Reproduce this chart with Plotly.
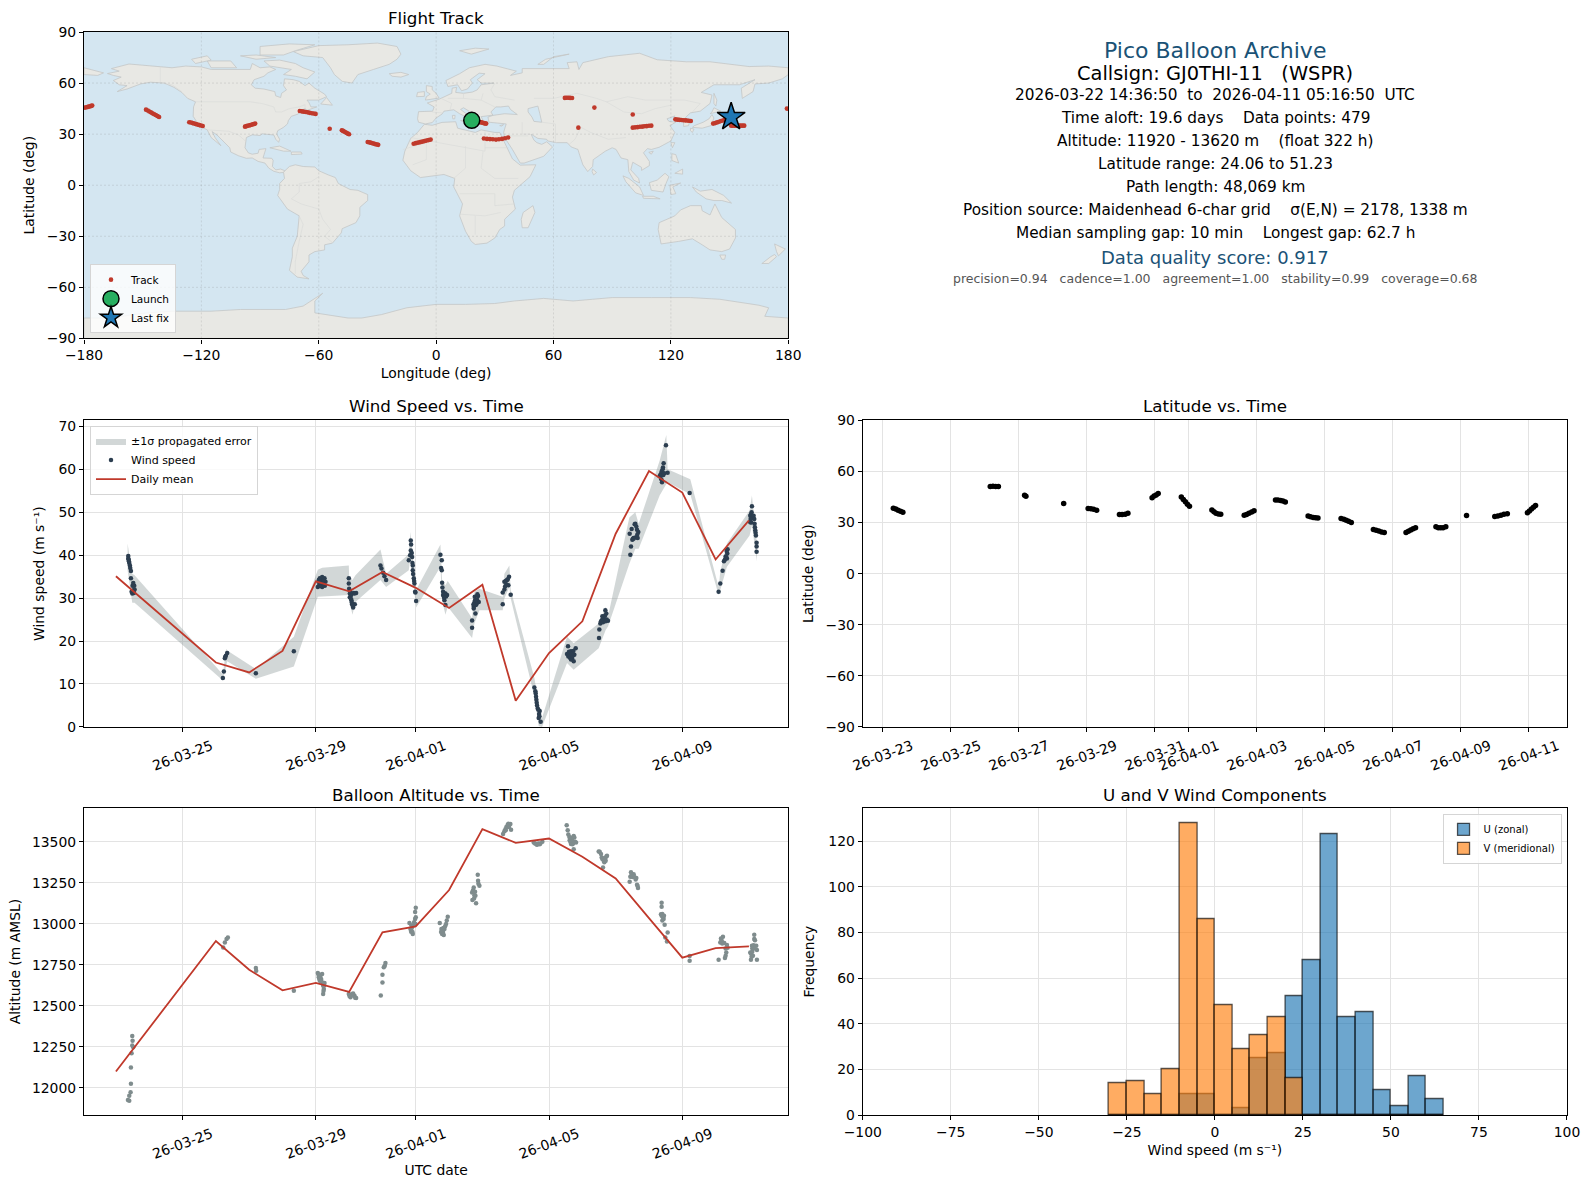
import pandas as pd
import plotly.graph_objects as go

# ---- datos ----
T0 = pd.Timestamp("2026-03-23")

# 1. Mapa: tierra, fronteras y traza
land_polys = [
    # Norteamerica
    [(-168,65.6),(-164,66.5),(-162,67),(-166,68.5),(-163,69.5),(-157,71.2),(-150,70.5),(-141,69.7),(-135,69),(-128,70),(-120,69.5),(-115,68),(-108,68),(-100,68),(-95,68),(-94,71.5),(-90,69),(-85,69.5),(-82,68),(-86,66),(-88,64),(-93,62),(-94.5,59),(-92.5,57),(-88,56.5),(-82.5,55),(-82,52.5),(-79.5,51.5),(-79,54),(-76.5,56),(-78,58.5),(-77.5,62.5),(-73,62),(-70,61),(-67,58.5),(-65,60),(-62,57),(-57,53.5),(-56,52),(-60,50),(-66,50),(-65,48.5),(-64,46),(-61,46),(-66,44),(-67,45),(-70,43.5),(-70.5,41.8),(-74,40.5),(-75.5,38),(-76,36),(-78,34),(-81,32),(-81.5,30),(-80,27),(-80.5,25.2),(-82,27),(-83,29.5),(-85,29.7),(-89,30.2),(-90,29.2),(-94,29.6),(-97,28),(-97.5,25),(-97.7,22),(-96,19),(-94,18.2),(-91,18.8),(-90.5,21),(-87,21.5),(-88,18),(-88.5,16),(-84,15.8),(-83.3,14.5),(-83.7,11),(-82,9),(-79.5,9.5),(-77.3,8.5),(-78,7.5),(-80,7.3),(-83,8.2),(-85.5,10),(-87.5,13),(-91,14),(-94,16),(-97,15.8),(-101,17.3),(-105,19.5),(-105.5,22),(-109,26),(-112,29.5),(-114.5,31.5),(-113,28),(-110,23.2),(-112,25),(-115,28),(-117,32.5),(-120.5,34.5),(-122.5,37.5),(-124.2,40.5),(-124,46),(-123,49),(-127,51),(-130,54.5),(-134,57.5),(-139,60),(-146,60.5),(-151,59.5),(-158,56.5),(-163,55),(-158,58.5),(-162,59),(-165,61.5),(-161,63.5),(-165,64.5)],
    # Groenlandia y artico canadiense
    [(-73,78.5),(-68,80),(-60,82),(-45,82.5),(-30,83.5),(-20,81.5),(-18,77),(-20,74),(-24,71),(-32,68),(-40,65),(-43,60),(-48,61),(-52,65),(-54,69),(-58,75),(-68,76)],
    [(-80,73.5),(-72,71.5),(-68,69),(-62,66.5),(-66,62.5),(-72,64),(-78,65),(-74,68),(-85,70),(-88,73)],
    [(-117,73),(-105,73),(-102,69),(-115,69)],
    [(-90,76.5),(-78,76.5),(-72,79),(-62,82.5),(-75,83),(-90,81.5)],
    [(-125,74),(-117,76),(-115,73.5),(-123,71.5)],
    [(-100,76),(-92,76.5),(-82,75),(-92,74)],
    [(-59,47.7),(-56,51.5),(-53,47)],
    [(-85,22),(-80,23),(-74.2,20),(-78,20)],
    [(-74,19.5),(-69,19.5),(-68.5,18.3),(-74,18)],
    # Sudamerica
    [(-77.3,8.5),(-75,11),(-72,12),(-68,11),(-62,10.7),(-60,8.5),(-55,6),(-51.5,4.5),(-50,1),(-44,-2.5),(-40,-3),(-35,-5.5),(-35,-9),(-39,-13),(-39,-18),(-41,-22),(-48,-25.5),(-48.5,-28),(-53,-34),(-57,-35),(-57,-38),(-62,-39),(-65,-41),(-65,-45),(-69,-50.5),(-68,-53),(-65,-55),(-71,-54),(-75,-50),(-73.5,-42),(-73.5,-37),(-71,-30),(-70,-18),(-76,-14),(-81,-6),(-80,-2.5),(-80,1),(-77.5,4),(-78,7.5)],
    # Africa
    [(-6,35.8),(-2,35.2),(3,36.9),(10,37.3),(11,33.5),(15,32.3),(20,31),(23,32.5),(30,31),(32.5,31),(34,27.5),(37,21),(39,15.5),(43,11.8),(51,12),(48,5),(40,-3),(39,-7),(40.5,-14),(35,-20),(35,-24),(32.5,-26),(30,-31),(26,-34),(20,-34.8),(18,-33),(15,-27),(12,-18),(13.5,-11),(9,-1),(9.5,4),(4,6.3),(-4,5.2),(-8,4.5),(-13,8.5),(-17,14.7),(-16,20),(-13,27.5),(-9.5,31)],
    # Eurasia
    [(-9,37),(-9.5,39),(-9,43.2),(-1.8,43.5),(-1,46),(-4.5,48.3),(1.5,50.5),(4,52),(8,54),(8.2,57),(10.5,57.5),(10,54.5),(14,54),(18.5,54.7),(21,56),(23,59),(29.5,60),(23,60),(21,62),(25,65.5),(22,65.8),(17.5,62),(18.5,60),(16,56.5),(13,55.5),(11,59),(6,58),(5,61.5),(12,65.5),(17,69),(25,71),(31,70),(41,67),(38,64.5),(44,66),(44,68.5),(54,68.5),(68,68.5),(67,72),(72,72.5),(73,68),(75,72),(88,75.5),(104,77.5),(113,73.7),(128,72.5),(140,72.5),(160,69.7),(170,70),(180,69),(180,65),(177,62.5),(170,60),(163,59.5),(162,55),(156.5,51),(156,57),(163,62),(155,59),(142,59),(135.5,54.5),(141,53),(140,48),(135,43.5),(130,42.5),(127.5,39.8),(129.5,37),(129,35),(126.5,34.5),(126.5,37.5),(125,39.5),(121.5,39),(122,40.7),(118,39),(119,37.5),(122.5,37),(119.5,35),(122,31),(120,26),(114,22.3),(110,21),(108,21.5),(106,19),(109,14),(109,11.5),(105,8.7),(105,10.5),(100.5,13.5),(99.5,9),(103.5,4),(104,1.3),(101,3),(98.5,8),(98,15),(94.5,16),(92,21),(90,22),(86.5,20),(80.3,15),(80,11),(77.5,8),(75,12),(73,19),(72.5,21),(69,22.5),(67,25),(61.5,25),(57,26),(56.5,27),(52,27.5),(48.5,30),(50,26.5),(51.5,25),(54,24),(56.5,25.5),(59.5,22.5),(55,17),(45,13),(43,13),(39,21),(35,28),(34.5,31),(35.8,36),(30.5,36.5),(27,37),(26.5,40),(29,41),(35,42),(41.5,41.5),(38,44.5),(37,46.5),(33,46),(30.5,46),(28,43),(29,41.2),(26,40.7),(23,40.3),(24,38),(22.5,36.7),(19.5,40.5),(19,42),(14,45.5),(12.5,44.5),(16,41.5),(18.5,40),(16,38),(15.5,40),(12,42),(9,44.3),(4,43.5),(3,41.8),(0,39.5),(-2,36.8),(-5.5,36)],
    [(-180,69),(-170,66),(-173,64.5),(-180,65)],
    # Islas
    [(-5.5,50),(1.5,51.2),(0,54),(-2,56),(-2,58),(-5,58.5),(-5,55),(-3,53.5),(-5,52)],
    [(-10,52),(-6,52.2),(-6,55),(-9.5,54.5)],
    [(-24,65.5),(-18,66.3),(-14,65),(-18,63.5),(-22.5,64)],
    [(12,79),(20,80.5),(27,80),(18,77)],
    [(52,71),(56,74),(68,77),(60,75.5),(55,71)],
    [(12.5,38),(15.5,38),(15,36.8)],
    [(8.3,41),(9.7,41),(9.5,39),(8.5,39)],
    [(23.5,35.5),(26,35.2),(24,35)],
    [(32.5,35),(34.5,35.6),(33.5,34.7)],
    [(49.5,-12),(50.5,-16),(47,-25),(44,-25),(43.5,-20),(44.5,-16)],
    [(80,9.5),(82,7.5),(80.5,6),(79.7,8)],
    [(131,34),(136,33.5),(140.5,35),(142,39.5),(141,41.5),(139.5,39),(136.5,37),(132,35)],
    [(140,42),(145.5,43.5),(142,45.5),(141,43)],
    [(130,33.5),(131.8,33),(131,31),(130,32)],
    [(142,54),(143.5,50),(143,46.5),(142,48)],
    [(120,25),(122,25),(120.8,22)],
    [(108.7,19.3),(111,20),(110,18.2)],
    [(120.5,18.5),(122.5,18),(124,13),(120.5,14.5)],
    [(122,7),(126,9.5),(126,6.5)],
    [(109,1.5),(113,3),(117,7),(119,5),(117.5,1),(116,-4),(110,-3)],
    [(95.5,5.5),(98.5,4),(104,-1),(106,-6),(102,-4.5),(97,2)],
    [(105.5,-6.5),(111,-6.5),(114.5,-8),(106,-7.7)],
    [(119.5,0),(125,1.3),(121,-1),(122.5,-5),(120,-5.5)],
    [(131,-1),(135,-3.5),(141,-2.5),(147,-6),(151,-10.5),(146,-9),(142,-9),(138,-8),(133,-4)],
    [(114,-22),(122,-18),(125,-14.5),(130,-12),(135.5,-12),(136,-15),(140,-17.5),(142.5,-11),(146,-19),(153,-26),(153,-31),(150,-37.5),(146,-39),(140,-38),(136,-35),(131,-31.5),(124,-33),(115,-34.5),(113.5,-26)],
    [(145,-41),(148,-41),(147.5,-43.5),(146,-43.5)],
    [(173,-34.5),(178.5,-37.5),(175,-41.5),(174,-39)],
    [(173,-40.7),(174,-42),(170,-46),(166.5,-46),(171,-42)],
    # Antartida
    [(-180,-90),(-180,-78),(-165,-78),(-158,-76.5),(-148,-75),(-135,-74),(-115,-74),(-100,-73),(-90,-73),(-77,-73),(-68,-71),(-58,-63.5),(-62,-68),(-62,-75),(-45,-78),(-38,-78),(-28,-76),(-15,-72),(0,-70),(15,-70),(30,-69.5),(40,-68),(55,-66.5),(70,-68),(80,-67),(90,-66),(110,-66),(130,-66),(145,-67),(165,-70.5),(170,-72),(168,-77),(180,-78),(180,-90)],
]
caspian = [(47,45),(52,46.5),(53,42),(54,37),(50,37.5),(49,40),(47,43)]
border_lines = [
    [(-123,49),(-95,49),(-89,48),(-83,46),(-82,43),(-79,43),(-75,45),(-70,46),(-67,47.3),(-67,45)],
    [(-141,69.7),(-141,60),(-135,59),(-130,55)],
    [(-117,32.5),(-108,31.5),(-106,31.7),(-101,29.5),(-97.5,26)],
    [(-60,5),(-64,2),(-70,1),(-70,-4),(-74,-8),(-69,-11),(-60,-14),(-58,-20),(-54,-26),(-57,-30),(-53,-33.7)],
    [(-70,-18),(-68,-23),(-70,-33),(-72,-45),(-72,-52)],
    [(-13,28),(-8,27),(12,23),(25,20),(25,32)],
    [(25,22),(37,22)],
    [(-17,21),(-5,25),(-5,15),(-12,12)],
    [(15,23),(15,10),(9,4)],
    [(24,20),(23,10),(30,4),(42,4)],
    [(12,-5),(30,-5),(30,-12),(40,-11)],
    [(12,-17),(25,-18),(33,-16)],
    [(20,-29),(20,-18)],
    [(50,51),(60,51),(72,54),(82,51),(87,49),(98,52),(107,50),(117,50),(127,50),(135,48),(131,43)],
    [(87,49),(96,43),(105,42),(112,45),(120,47)],
    [(74,34),(79,31),(88,27),(97,28)],
    [(68,24),(71,27),(74,34)],
    [(35,29),(47,29)],
    [(44,37),(44,30),(48,30)],
    [(61,25),(61,36),(54,37)],
    [(-2,43),(3,42.5)],
    [(2.5,51),(8,48),(7,44)],
    [(6,51),(14,51),(14,54)],
    [(14,51),(23,50),(24,54)],
    [(23,50),(30,46)],
    [(40,50),(30,52),(28,56),(30,60)],
]
track_lon = [-179.5,-178.7,-178,-177.4,-176.8,-176.3,-175.8,179.3,
             -148.3,-147.4,-146.6,-145.8,-145,-144.1,-143.3,-142.4,-141.6,
             -126.2,-125.3,-124.5,-123.6,-122.8,-121.9,-121,-120.2,-119.3,
             -97.7,-97,-96.4,-95.7,-95,-94.3,-93.7,-93.1,-92.5,
             -69.7,-68.7,-67.7,-66.6,-65.6,-64.6,-63.6,-62.6,-61.6,
             -54.4,-48.2,-47.6,-47,-46.3,-45.7,-45.1,-44.5,
             -35,-34.3,-33.6,-32.9,-32.2,-31.5,-30.9,-30.2,-29.6,
             -11.5,-10.4,-9.3,-8.2,-7.1,-6,-5,-3.9,-2.8,
             21.9,22.5,23.2,23.8,24.5,25,25.6,
             24.4,26,27.5,29,30.6,32.1,33.7,35.2,36.8,
             65.8,66.7,67.6,68.5,69.5,72.7,80.9,100.5,
             100.5,101.7,102.9,104.1,105.3,106.4,107.6,108.8,110,
             122.3,123.3,124.3,125.3,126.3,127.3,128.2,129.2,130.2,
             141.6,142.6,143.6,144.6,145.6,146.6,147.5,148.5,149.5,
             150.8,151.6,152.5,153.3,154.1,155,155.8,156.7,157.5]
track_lat = [45.6,45.8,46,46.2,46.4,46.6,46.8,45,
             44.4,43.9,43.3,42.8,42.2,41.7,41.2,40.6,40.1,
             37,36.8,36.5,36.2,35.9,35.6,35.3,35.1,34.8,
             34.4,34.7,34.9,35.1,35.3,35.5,35.8,36,36.2,
             43.6,43.4,43.2,43,42.8,42.5,42.3,42.1,41.9,
             33.2,32.3,31.9,31.5,31.1,30.7,30.3,29.9,
             25.4,25.2,25,24.8,24.5,24.3,24.1,23.9,23.7,
             24.4,24.7,25,25.3,25.6,25.9,26.2,26.5,26.8,
             37.2,37,36.9,36.7,36.5,36.3,36.2,
             27.4,27.2,27.1,27,26.8,27,27.2,27.6,28,
             51.3,51.4,51.4,51.3,51.2,33.8,45.6,41.5,
             33.8,34,34.1,34.3,34.4,34.6,34.7,34.9,35,
             38.7,38.5,38.4,38.3,38.2,38.1,38,37.9,37.7,
             36.2,36.5,36.9,37.3,37.7,38,38.4,38.7,39.1,
             35,35,35,35,35,35,35,35,35]
launch_lon, launch_lat = [18.2], [38.1]
last_lon, last_lat = [150.8], [40.1]
map_xticks = [-180,-120,-60,0,60,120,180]
map_yticks = [-90,-60,-30,0,30,60,90]

# 2. Viento: dias desde T0
wind_days = [.37,.37,.38,.40,.42,.45,.45,.50,.55,.54,.49,.54,.39,.43,.52,.56,.47,
             3.21,3.24,3.27,3.30,3.34,3.28,4.20,5.34,
             6.06,6.08,6.12,6.19,6.26,6.29,6.27,6.19,6.12,6.22,6.10,6.15,6.2,6.24,6.16,6.09,6.25,
             6.99,6.99,7.00,7.02,7.02,7.07,7.09,7.12,7.17,7.14,7.21,7.06,7.03,7.08,7.11,7.05,7.16,
             7.94,7.97,8.02,8.06,8.11,
             8.85,8.85,8.83,8.79,8.89,8.91,8.91,8.94,8.96,8.98,9.01,8.86,8.88,8.90,8.92,8.95,8.99,
             9.74,9.78,9.78,9.79,9.82,9.89,9.94,9.86,9.89,9.82,9.76,9.8,9.84,9.91,9.87,9.85,
             10.69,10.69,10.79,10.74,10.77,10.87,10.89,10.82,10.74,10.76,10.8,10.84,10.85,10.73,10.78,
             11.61,11.61,11.66,11.66,11.74,11.80,11.78,11.85,11.70,11.76,11.72,11.68,
             12.56,12.59,12.61,12.63,12.66,12.72,12.69,12.75,12.60,12.62,12.64,12.68,12.70,12.71,
             13.57,13.54,13.62,13.69,13.74,13.80,13.76,13.66,13.60,13.63,13.66,13.71,13.73,13.58,13.68,
             14.50,14.51,14.54,14.59,14.69,14.72,14.77,14.64,14.56,14.60,14.62,14.66,14.68,14.70,14.73,
             15.44,15.46,15.42,15.48,15.52,15.59,15.66,15.64,15.68,15.50,15.54,15.57,15.61,15.65,15.62,15.54,
             16.51,16.44,16.42,16.36,16.32,16.39,16.56,16.34,16.38,16.41,16.43,16.46,16.37,17.22,
             18.09,18.14,18.21,18.25,18.30,18.34,18.36,18.28,18.32,18.33,18.35,
             19.09,19.04,19.12,19.04,19.17,19.19,19.21,19.23,19.23,19.23,19.06,19.08,19.10,19.14,19.16,19.18,19.20,19.05,19.07]
wind_speed = [39.8,39.2,39.0,38.2,37.6,36.3,34.6,32.9,32.9,31.9,31.1,31.2,38.6,37,33.5,32,31.5,
              11.4,12.9,16,16.6,17.2,16.3,12.5,17.6,
              32.6,33.8,34.6,34.9,34.6,33.8,32.9,32.6,32.9,33.8,33,34.2,33.4,34.3,32.8,34.2,33,
              34.6,33.4,32.2,31.1,30.2,29.5,28.6,27.8,28.6,31.2,31.2,30.7,31.6,29,28.2,29.9,31.1,
              37.6,36.9,35.9,35.1,34.2,
              43.4,41.1,40,38.8,39.6,37.6,36.5,34.6,33.4,31.5,29.3,42.5,40.5,38.2,35.6,34,31.3,
              40.1,38.8,36.5,33.6,31.5,31.1,30.7,29.5,28.4,30.7,37,32.5,30.5,30.4,31,30.1,
              23.1,24.8,26.4,28,30.3,30.5,29.1,28.6,27.6,29,28.4,29.6,30.9,28.5,29.5,
              28.6,31.3,32,33.8,34.2,35,33,30.8,34,34.4,33.2,32.7,
              9.2,8.3,7,5.6,4.3,3.7,2.1,1.2,7.8,6.3,5,4,3,2.5,
              18.8,17,16.8,16,15.3,18.3,16.8,17.6,17.5,16.1,15.7,16.6,17.7,16.4,17,
              20.7,22.7,24.1,24.9,27.2,26.4,24.7,25.3,24.6,25.8,24.4,24.8,25.9,24.6,25,
              40.1,42,45,46.1,43.8,47.3,44,45.9,45.4,43.6,44,47.2,44.2,44.8,46.7,43.9,
              65.6,61.4,60.4,58.9,58.4,57,59.2,58.7,59.5,60,58.7,59.1,57.7,54.5,
              31.5,33.4,36.4,38.6,39.7,39.2,41.4,39,39.6,41,40.4,
              51.4,49.2,49,47.7,47.3,45.8,44.6,42.9,42,40.8,49.5,50,48.7,49.2,48.4,46.5,45.2,48.4,47.6]
band_days = [.35,.49,.56,3.21,3.24,3.31,3.34,4.20,5.34,6.06,6.19,6.99,7.00,7.10,7.19,7.94,8.11,8.79,8.84,9.01,
             9.74,9.79,9.89,9.96,10.69,10.76,10.91,11.61,11.66,11.81,11.85,12.56,12.69,12.79,13.54,13.74,
             14.49,14.70,14.77,15.41,15.59,15.69,16.32,16.52,16.56,17.24,18.09,18.14,18.34,19.02,19.09,19.24]
band_hi = [42.7,35.7,35.3,12.2,14.1,18.2,17.8,13.5,21,36.6,37.1,37.6,34.9,34.2,35.3,41.3,35.7,40.2,45.4,31.9,
           42.5,34.2,33,34,25.3,31.5,32.2,30.3,35.7,37.6,31.9,11.4,5.2,2.1,21,19.5,
           24.1,28,25.7,48.8,50,47.3,62,68,60,57.7,32.6,36.1,42.7,50.4,53.9,42.7]
band_lo = [36.5,28.9,28.9,10.8,11.8,14.1,15.3,11.2,14.1,30.3,30.3,30.7,29.5,26.1,29.1,34.2,32.6,36.5,39.6,27.8,
           37.3,29.5,26.1,28,20.7,24.1,27.2,27.2,29.9,32.6,29.9,7.1,0.2,0,14.9,13.3,
           18.3,22.6,23.4,38,41.5,41.5,53.9,56.6,57,54.2,30.7,31.9,37.3,44.6,46.9,38.6]
mean_dates = ["2026-03-23","2026-03-26","2026-03-27","2026-03-28","2026-03-29","2026-03-30","2026-03-31","2026-04-01","2026-04-02",
              "2026-04-03","2026-04-04","2026-04-05","2026-04-06","2026-04-07","2026-04-08","2026-04-09","2026-04-10","2026-04-11"]
wind_mean = [35.1,15.0,12.7,17.7,33.9,31.6,36.1,32.4,27.7,33.1,6.1,17.2,24.6,45,59.6,54.6,39,48.1]
time_ticks = ["2026-03-25","2026-03-29","2026-04-01","2026-04-05","2026-04-09"]

# 3. Latitud
lat_days = [.31,.38,.45,.52,.59, 3.16,3.24,3.32,3.4, 4.17,4.21, 5.32, 6.04,6.12,6.2,6.29, 6.96,7.04,7.13,7.21,
            7.92,7.98,8.04,8.1, 8.78,8.84,8.9,8.96,9.02, 9.68,9.74,9.8,9.87,9.94, 10.63,10.7,10.77,10.85,10.92,
            11.55,11.62,11.7,11.77,11.84, 12.51,12.58,12.66,12.73,12.8, 13.48,13.56,13.63,13.7,13.78,
            14.43,14.51,14.59,14.67,14.75, 15.39,15.46,15.53,15.6,15.67, 16.27,16.34,16.41,16.48,16.56, 17.17,
            18.0,18.09,18.18,18.27,18.37, 18.96,19.02,19.08,19.14,19.2]
lat_vals = [38.4,37.9,37.3,36.7,36.1, 51.2,51.3,51.2,51.1, 46.0,45.4, 41.2, 38.3,38.1,37.8,37.3, 34.7,34.7,34.9,35.4,
            44.6,45.6,46.2,47.0, 45,43.6,42.2,40.8,39.6, 37.4,36.3,35.5,35,34.9, 34.3,34.8,35.4,36.2,36.9,
            43.3,43.3,43,42.6,42.1, 33.9,33.4,33,32.8,32.7, 32.4,31.9,31.4,30.8,30,
            25.9,25.5,25,24.5,24.1, 24.1,24.9,25.6,26.4,27, 27.5,27,26.9,27,27.5, 34.1,
            33.5,33.9,34.3,34.9,35.1, 35.7,36.8,37.9,39,40]
lat_ticks = ["2026-03-23","2026-03-25","2026-03-27","2026-03-29","2026-03-31","2026-04-01","2026-04-03","2026-04-05","2026-04-07","2026-04-09","2026-04-11"]

# 4. Altitud
alt_days = [.49,.50,.49,.52,.47,.45,.45,.44,.40,.36,.40,
            3.22,3.27,3.32,3.36, 4.20,4.21, 5.34,
            6.06,6.09,6.12,6.19,6.26,6.24,6.22,6.16,6.22,6.08,6.10,6.13,6.17,6.2,6.23,6.25,6.12,
            6.99,7.04,7.09,7.16,7.21,7.01,7.06,7.12,7.18,
            7.95,8.00,8.00,8.04,8.09,8.07,
            9.00,8.98,8.98,8.81,8.84,8.91,8.99,8.89,8.86,8.95,8.93,8.88,8.87,8.90,9.0,
            9.72,9.79,9.84,9.96,9.91,9.77,9.86,9.80,9.82,9.88,9.93,9.76,9.83,
            10.86,10.87,10.91,10.74,10.69,10.79,10.70,10.81,10.72,10.76,10.78,10.75,10.88,
            11.62,11.69,11.76,11.84,11.86,11.66,11.72,11.78,11.8,11.7,
            12.54,12.64,12.74,12.80,12.58,12.62,12.68,12.72,
            13.53,13.56,13.61,13.69,13.76,13.81,13.66,13.74,13.58,13.62,13.64,13.70,13.72,13.78,13.68,13.74,
            14.49,14.56,14.64,14.74,14.62,14.69,14.52,14.58,14.60,14.66,14.70,14.72,14.66,
            15.46,15.54,15.42,15.44,15.62,15.64,15.67,15.48,15.50,15.56,15.60,15.66,
            16.38,16.38,16.36,16.44,16.47,16.56,16.49,16.54,16.40,16.42,16.38,16.45,16.40,
            17.22,17.22,
            18.09,18.14,18.22,18.26,18.34,18.32,18.28,18.16,18.18,18.2,18.3,18.3,18.36,
            19.16,19.16,19.09,19.22,19.24,19.04,19.06,19.24,19.12,19.10,19.14,19.18,19.06,19.08,19.1,19.16]
alt_vals = [12317,12288,12258,12248,12211,12124,12026,11973,11953,11927,11922,
            12856,12887,12907,12917, 12731,12714, 12593,
            12700,12674,12653,12694,12639,12603,12572,12664,12623,12690,12665,12680,12650,12640,12590,12625,12690,
            12572,12552,12572,12562,12548,12560,12565,12575,12550,
            12564,12643,12690,12735,12761,12745,
            13098,13072,13029,13005,12968,12938,12999,12988,12952,13010,12990,12975,12990,12950,13040,
            13005,12938,12932,13043,12999,12968,12968,12960,12950,12985,13020,12950,12975,
            13299,13262,13232,13222,13191,13171,13145,13126,13205,13175,13195,13155,13245,
            13547,13577,13604,13608,13573,13565,13590,13610,13590,13570,
            13496,13482,13490,13500,13490,13485,13490,13485,
            13601,13571,13530,13510,13526,13496,13486,13455,13545,13510,13500,13485,13490,13500,13525,13535,
            13441,13425,13384,13415,13344,13401,13440,13405,13395,13375,13385,13410,13400,
            13315,13303,13256,13287,13279,13238,13218,13300,13285,13285,13270,13230,
            13128,13104,13059,13029,12995,12948,12917,12893,13060,13040,13050,13050,13020,
            12804,12775,
            12781,12887,12921,12883,12871,12826,12792,12910,12900,12880,12850,12805,12855,
            12934,12907,12867,12867,12840,12826,12781,12781,12806,12850,12870,12900,12820,12800,12830,12850]
alt_mean = [12100,12895,12720,12595,12640,12585,12948,12984,13206,13577,13494,13520,13409,13277,13035,12794,12852,12863]
alt_ticks = [12000,12250,12500,12750,13000,13250,13500]

# 5. Histograma U / V
bin_centers = [-27.5,-22.5,-17.5,-12.5,-7.5,-2.5,2.5,7.5,12.5,17.5,22.5,27.5,32.5,37.5,42.5,47.5,52.5,57.5,62.5]
u_counts = [0,0,0,0,9,9,0,3,25,27,52,68,123,43,45,11,4,17,7]
v_counts = [14,15,9,20,128,86,48,29,35,43,16,0,0,0,0,0,0,0,0]

# 6. Texto de cabecera
info_lines = [
    ("Pico Balloon Archive", 22, "#1a5276", 50.5),
    ("Callsign: GJ0THI-11   (WSPR)", 19.4, "black", 73),
    ("2026-03-22 14:36:50  to  2026-04-11 05:16:50  UTC", 15.3, "black", 94.5),
    ("Time aloft: 19.6 days    Data points: 479", 15.3, "black", 117.5),
    ("Altitude: 11920 - 13620 m    (float 322 h)", 15.3, "black", 140.5),
    ("Latitude range: 24.06 to 51.23", 15.3, "black", 163.5),
    ("Path length: 48,069 km", 15.3, "black", 186.5),
    ("Position source: Maidenhead 6-char grid    σ(E,N) = 2178, 1338 m", 15.3, "black", 209.5),
    ("Median sampling gap: 10 min    Longest gap: 62.7 h", 15.3, "black", 232.5),
    ("Data quality score: 0.917", 18, "#1a5276", 257.5),
    ("precision=0.94   cadence=1.00   agreement=1.00   stability=0.99   coverage=0.68", 12.5, "#555555", 278),
]

# ---- estilos ----
W, H = 1590, 1189
M_L, M_R, M_T, M_B = 83.5, 1567, 31.7, 1115.3  # borde de los ejes en pixeles
FONT = "DejaVu Sans"
GRID = "#e3e3e3"
RED = "#c0392b"


def px_x(p):
    return (p - M_L) / (M_R - M_L)


def px_y(p):
    return 1 - (p - M_T) / (M_B - M_T)


def join_lines(lines, idx):
    out = []
    for ln in lines:
        out += [p[idx] for p in ln] + [None]
    return out


def to_time(days):
    return T0 + pd.to_timedelta(days, unit="D")


fig = go.Figure()

# Mapa: una traza por poligono
for poly in land_polys:
    fig.add_trace(go.Scatter(x=[p[0] for p in poly] + [poly[0][0]], y=[p[1] for p in poly] + [poly[0][1]],
                             mode="lines", fill="toself", fillcolor="#e8e8e4",
                             line=dict(color="#c4c6c6", width=0.8), hoverinfo="skip",
                             showlegend=False, xaxis="x", yaxis="y"))
fig.add_trace(go.Scatter(x=[p[0] for p in caspian] + [caspian[0][0]], y=[p[1] for p in caspian] + [caspian[0][1]],
                         mode="lines", fill="toself", fillcolor="#d4e6f1",
                         line=dict(color="#c4c6c6", width=0.8), hoverinfo="skip",
                         showlegend=False, xaxis="x", yaxis="y"))
fig.add_trace(go.Scatter(x=join_lines(border_lines, 0), y=join_lines(border_lines, 1), mode="lines",
                         line=dict(color="#d9dad8", width=0.6), hoverinfo="skip", showlegend=False,
                         xaxis="x", yaxis="y"))
# rejilla punteada encima de la tierra
grid_x = []
grid_y = []
for v in map_xticks[1:-1]:
    grid_x += [v, v, None]
    grid_y += [-90, 90, None]
for v in map_yticks[1:-1]:
    grid_x += [-180, 180, None]
    grid_y += [v, v, None]
fig.add_trace(go.Scatter(x=grid_x, y=grid_y, mode="lines", line=dict(color="rgba(128,128,128,0.3)", width=0.7, dash="2px,2px"),
                         hoverinfo="skip", showlegend=False, xaxis="x", yaxis="y"))
fig.add_trace(go.Scatter(x=track_lon, y=track_lat, mode="markers", name="Track",
                         marker=dict(size=4.6, color=RED), xaxis="x", yaxis="y", legend="legend"))
fig.add_trace(go.Scatter(x=launch_lon, y=launch_lat, mode="markers", name="Launch",
                         marker=dict(size=16, color="#27ae60", line=dict(color="black", width=1.5)),
                         xaxis="x", yaxis="y", legend="legend"))
fig.add_trace(go.Scatter(x=last_lon, y=last_lat, mode="markers", name="Last fix",
                         marker=dict(size=21, symbol="star", color="#1f77b4", line=dict(color="black", width=1.5)),
                         xaxis="x", yaxis="y", legend="legend"))

# Viento
fig.add_trace(go.Scatter(x=to_time(band_days + band_days[::-1]), y=band_hi + band_lo[::-1], mode="lines", fill="toself",
                         fillcolor="rgba(127,140,141,0.35)", line=dict(width=0), name="±1σ propagated error",
                         hoverinfo="skip", xaxis="x2", yaxis="y2", legend="legend2"))
fig.add_trace(go.Scatter(x=to_time(wind_days), y=wind_speed, mode="markers", name="Wind speed",
                         marker=dict(size=4.5, color="#2c3e50"), xaxis="x2", yaxis="y2", legend="legend2"))
fig.add_trace(go.Scatter(x=mean_dates, y=wind_mean, mode="lines", name="Daily mean",
                         line=dict(color=RED, width=1.8), xaxis="x2", yaxis="y2", legend="legend2"))

# Latitud
fig.add_trace(go.Scatter(x=to_time(lat_days), y=lat_vals, mode="markers", marker=dict(size=5.5, color="black"),
                         showlegend=False, xaxis="x3", yaxis="y3"))

# Altitud
fig.add_trace(go.Scatter(x=to_time(alt_days), y=alt_vals, mode="markers", marker=dict(size=4.5, color="#7f8c8d"),
                         showlegend=False, xaxis="x4", yaxis="y4"))
fig.add_trace(go.Scatter(x=mean_dates, y=alt_mean, mode="lines", line=dict(color=RED, width=1.8),
                         showlegend=False, xaxis="x4", yaxis="y4"))

# Histograma
fig.add_trace(go.Bar(x=bin_centers, y=u_counts, width=5, name="U (zonal)",
                     marker=dict(color="rgba(31,119,180,0.65)", line=dict(color="rgba(0,0,0,0.65)", width=1.3)),
                     xaxis="x5", yaxis="y5", legend="legend3"))
fig.add_trace(go.Bar(x=bin_centers, y=v_counts, width=5, name="V (meridional)",
                     marker=dict(color="rgba(255,127,14,0.65)", line=dict(color="rgba(0,0,0,0.65)", width=1.3)),
                     xaxis="x5", yaxis="y5", legend="legend3"))

axis_base = dict(showline=True, mirror=True, linecolor="black", linewidth=1.2, ticks="outside", ticklen=4,
                 tickcolor="black", tickwidth=1, gridcolor=GRID, gridwidth=1, zeroline=False, automargin=False,
                 tickfont=dict(family=FONT, size=13.9, color="black"))
date_axis = dict(type="date", tickformat="%y-%m-%d", tickangle=-20, ticklabelshift=29, ticklabelstandoff=1)


def axis_title(text, standoff):
    return dict(text=text, font=dict(family=FONT, size=13.9, color="black"), standoff=standoff)


left_col = [px_x(83.5), px_x(788)]
right_col = [px_x(862.5), px_x(1567)]
row1 = [px_y(338.3), px_y(31.7)]
row2 = [px_y(727), px_y(420.3)]
row3 = [px_y(1115.3), px_y(808.3)]
wind_range = ["2026-03-22 01:00", "2026-04-12 04:20"]
lat_range = ["2026-03-22 09:50", "2026-04-12 03:00"]

legend_base = dict(bgcolor="rgba(255,255,255,0.8)", bordercolor="#d5d5d5", borderwidth=1,
                   xanchor="left", itemsizing="trace", tracegroupgap=0)

fig.update_layout(
    width=W, height=H, autosize=False,
    margin=dict(l=M_L, r=W - M_R, t=M_T, b=H - M_B, pad=0),
    paper_bgcolor="white", plot_bgcolor="white", barmode="overlay", bargap=0,
    font=dict(family=FONT, color="black"),
    xaxis=dict(axis_base, domain=left_col, range=[-180, 180], tickvals=map_xticks, showgrid=False,
               title=axis_title("Longitude (deg)", 6)),
    yaxis=dict(axis_base, domain=row1, range=[-90, 90], tickvals=map_yticks, showgrid=False,
               title=axis_title("Latitude (deg)", 8)),
    xaxis2=dict(axis_base, **date_axis, domain=left_col, anchor="y2", range=wind_range, tickvals=time_ticks),
    yaxis2=dict(axis_base, domain=row2, anchor="x2", range=[0, 71.4], tickvals=list(range(0, 71, 10)),
                title=axis_title("Wind speed (m s⁻¹)", 10)),
    xaxis3=dict(axis_base, **date_axis, domain=right_col, anchor="y3", range=lat_range, tickvals=lat_ticks),
    yaxis3=dict(axis_base, domain=row2, anchor="x3", range=[-90, 90], tickvals=map_yticks,
                title=axis_title("Latitude (deg)", 8)),
    xaxis4=dict(axis_base, **date_axis, domain=left_col, anchor="y4", range=wind_range, tickvals=time_ticks,
                title=axis_title("UTC date", 4)),
    yaxis4=dict(axis_base, domain=row3, anchor="x4", range=[11835, 13705], tickvals=alt_ticks, tickformat="d",
                title=axis_title("Altitude (m AMSL)", 8)),
    xaxis5=dict(axis_base, domain=right_col, anchor="y5", range=[-100, 100], tickvals=list(range(-100, 101, 25)),
                title=axis_title("Wind speed (m s⁻¹)", 6)),
    yaxis5=dict(axis_base, domain=row3, anchor="x5", range=[0, 134.4], tickvals=list(range(0, 121, 20)),
                title=axis_title("Frequency", 10)),
    legend=dict(legend_base, x=px_x(89.5), y=px_y(333), yanchor="bottom", font=dict(family=FONT, size=10.5)),
    legend2=dict(legend_base, x=px_x(89.5), y=px_y(425.5), yanchor="top", font=dict(family=FONT, size=11)),
    legend3=dict(legend_base, x=px_x(1442.5), y=px_y(814), yanchor="top", font=dict(family=FONT, size=10)),
    shapes=[dict(type="rect", xref="x", yref="y", x0=-180, x1=180, y0=-90, y1=90, fillcolor="#d4e6f1",
                 line=dict(width=0), layer="below")],
)

annotations = []
for text, cx, py in [("Flight Track", 436, 17.5), ("Wind Speed vs. Time", 436, 406),
                     ("Latitude vs. Time", 1215, 406), ("Balloon Altitude vs. Time", 436, 795),
                     ("U and V Wind Components", 1215, 795)]:
    annotations.append(dict(text=text, x=px_x(cx), y=px_y(py), xref="paper", yref="paper", showarrow=False,
                            xanchor="center", yanchor="middle", font=dict(family=FONT, size=16.7, color="black")))
for text, size, color, py in info_lines:
    annotations.append(dict(text=text.replace("  ", "&nbsp;&nbsp;"), x=px_x(1215), y=px_y(py), xref="paper", yref="paper",
                            showarrow=False, xanchor="center", yanchor="middle",
                            font=dict(family=FONT, size=size, color=color)))
fig.update_layout(annotations=annotations)

fig.write_html("out.html", config={"displayModeBar": False}, post_script="document.body.style.margin='0';")
